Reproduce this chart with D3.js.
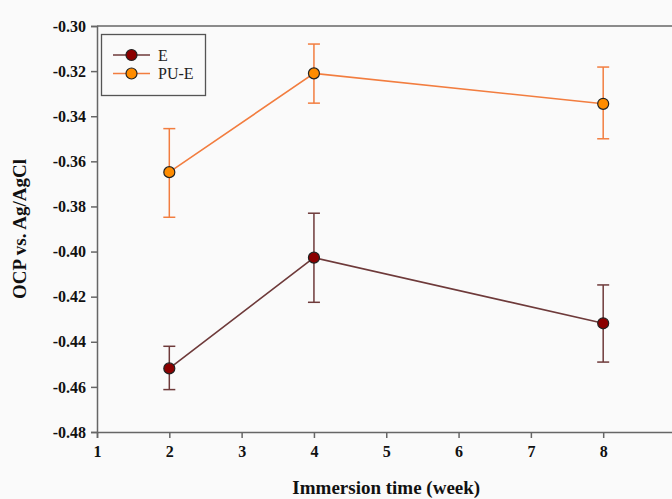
<!DOCTYPE html>
<html>
<head>
<meta charset="utf-8">
<script src="https://cdn.jsdelivr.net/npm/d3@7"></script>
<style>
  body { margin: 0; background: #fafafa; }
  text { font-family: "Liberation Serif", "Times New Roman", serif; }
</style>
</head>
<body>
<div id="chart"></div>
<script>
// Data
var weeks = [2, 4, 8];
var seriesNames = ["E", "PU-E"];
var eMean = [-0.4518, -0.4027, -0.4318];
var eHigh = [-0.4420, -0.3830, -0.4148];
var eLow  = [-0.4612, -0.4225, -0.4490];
var puMean = [-0.3648, -0.3210, -0.3345];
var puHigh = [-0.3455, -0.3080, -0.3182];
var puLow  = [-0.3848, -0.3342, -0.3500];
var xTicks = [1, 2, 3, 4, 5, 6, 7, 8, 9];
var yTicks = [-0.30, -0.32, -0.34, -0.36, -0.38, -0.40, -0.42, -0.44, -0.46, -0.48];

function initializeChart() {
    d3.select("#chart").select("svg").remove();

    var W = 672, H = 499;
    var svg = d3.select("#chart").append("svg")
        .attr("width", W)
        .attr("height", H);

    var x = d3.scaleLinear().domain([1, 9]).range([97, 675.5]);
    var y = d3.scaleLinear().domain([-0.48, -0.30]).range([432, 26]);

    var axisColor = "#666";
    var serif = "'Liberation Serif', 'Times New Roman', serif";

    // Frame top line
    svg.append("line")
        .attr("x1", x(1)).attr("x2", W)
        .attr("y1", y(-0.30)).attr("y2", y(-0.30))
        .attr("stroke", axisColor).attr("stroke-width", 1.5);

    // X axis
    var gx = svg.append("g")
        .attr("transform", `translate(0,${y(-0.48)})`)
        .call(d3.axisBottom(x).tickValues(xTicks).tickFormat(d => String(d)).tickSize(6).tickPadding(8))
        .attr("font-family", serif);
    gx.select(".domain").attr("stroke", axisColor).attr("stroke-width", 1.5);
    gx.selectAll(".tick line").attr("stroke", axisColor).attr("stroke-width", 1.5);
    gx.selectAll("text").attr("font-size", 16).attr("font-weight", "bold").attr("fill", "#111");

    // Y axis (plain hyphen minus like the reference)
    var gy = svg.append("g")
        .attr("transform", `translate(${x(1)},0)`)
        .call(d3.axisLeft(y).tickValues(yTicks).tickFormat(d => d.toFixed(2)).tickSize(6).tickPadding(5))
        .attr("font-family", serif);
    gy.select(".domain").attr("stroke", axisColor).attr("stroke-width", 1.5);
    gy.selectAll(".tick line").attr("stroke", axisColor).attr("stroke-width", 1.5);
    gy.selectAll("text").attr("font-size", 16).attr("font-weight", "bold").attr("fill", "#111");

    // Axis titles
    svg.append("text")
        .attr("x", x(5)).attr("y", 494)
        .attr("text-anchor", "middle")
        .attr("font-size", 19).attr("font-weight", "bold").attr("fill", "#111")
        .text("Immersion time (week)");
    svg.append("text")
        .attr("transform", `translate(26,${(y(-0.30) + y(-0.48)) / 2}) rotate(-90)`)
        .attr("text-anchor", "middle")
        .attr("font-size", 19).attr("font-weight", "bold").attr("fill", "#111")
        .text("OCP vs. Ag/AgCl");

    var series = [
        { name: seriesNames[0], mean: eMean, hi: eHigh, lo: eLow, line: "#6e3a3a", fill: "#8b0000" },
        { name: seriesNames[1], mean: puMean, hi: puHigh, lo: puLow, line: "#f27d3f", fill: "#ff8c00" }
    ];

    var line = d3.line()
        .x(d => x(d.w))
        .y(d => y(d.v));

    series.forEach(function (s) {
        var pts = weeks.map((w, i) => ({ w: w, v: s.mean[i], hi: s.hi[i], lo: s.lo[i] }));
        var g = svg.append("g");

        // Error bars
        g.selectAll(".eb").data(pts).enter().append("line")
            .attr("x1", d => x(d.w)).attr("x2", d => x(d.w))
            .attr("y1", d => y(d.hi)).attr("y2", d => y(d.lo))
            .attr("stroke", s.line).attr("stroke-width", 1.5);
        g.selectAll(".capt").data(pts).enter().append("line")
            .attr("x1", d => x(d.w) - 6).attr("x2", d => x(d.w) + 6)
            .attr("y1", d => y(d.hi)).attr("y2", d => y(d.hi))
            .attr("stroke", s.line).attr("stroke-width", 1.5);
        g.selectAll(".capb").data(pts).enter().append("line")
            .attr("x1", d => x(d.w) - 6).attr("x2", d => x(d.w) + 6)
            .attr("y1", d => y(d.lo)).attr("y2", d => y(d.lo))
            .attr("stroke", s.line).attr("stroke-width", 1.5);

        g.append("path")
            .datum(pts)
            .attr("fill", "none")
            .attr("stroke", s.line)
            .attr("stroke-width", 1.6)
            .attr("d", line);

        g.selectAll("circle").data(pts).enter().append("circle")
            .attr("cx", d => x(d.w)).attr("cy", d => y(d.v))
            .attr("r", 5.5)
            .attr("fill", s.fill)
            .attr("stroke", "#222").attr("stroke-width", 1.2);
    });

    // Legend
    var lg = svg.append("g");
    lg.append("rect")
        .attr("x", 101.5).attr("y", 34.5)
        .attr("width", 104).attr("height", 61)
        .attr("fill", "none").attr("stroke", "#555").attr("stroke-width", 1.3);
    series.forEach(function (s, i) {
        var ly = 55 + i * 18.5;
        lg.append("line")
            .attr("x1", 113).attr("x2", 150).attr("y1", ly).attr("y2", ly)
            .attr("stroke", s.line).attr("stroke-width", 1.6);
        lg.append("circle")
            .attr("cx", 131.5).attr("cy", ly).attr("r", 5.5)
            .attr("fill", s.fill).attr("stroke", "#222").attr("stroke-width", 1.2);
        lg.append("text")
            .attr("x", 158).attr("y", ly).attr("dy", "0.35em")
            .attr("font-size", 16).attr("fill", "#222")
            .text(s.name);
    });
}

document.addEventListener('DOMContentLoaded', initializeChart);
</script>
</body>
</html>
